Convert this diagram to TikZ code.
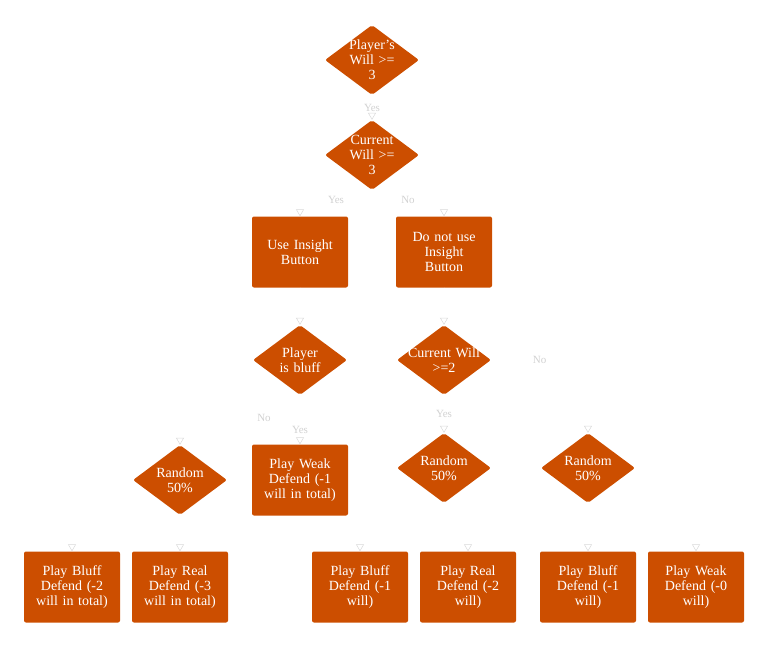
\documentclass[tikz,border=0pt]{standalone}
\usepackage{fontspec}
\setmainfont{Liberation Serif}
\usepackage{tikz}
\usetikzlibrary{positioning, arrows.meta, shapes.geometric}
\definecolor{boxorange}{HTML}{CC4E00}

\begin{document}
\begin{tikzpicture}[x=1pt, y=-1pt,
  font=\fontsize{14}{15}\selectfont,
  box/.style={fill=boxorange, rounded corners=2pt, minimum width=96pt, minimum height=71pt,
    text=white, align=center, text width=90pt, inner sep=0pt},
  dia/.style={diamond, fill=boxorange, rounded corners=2pt, minimum width=94pt,
    minimum height=70pt, inner sep=0pt},
  dtxt/.style={text=white, align=center, text width=80pt},
  link/.style={draw=gray!30, double=white, double distance=1.2pt, line width=0.5pt,
    -{Triangle[open, length=7pt, width=8pt]}},
  yn/.style={text=gray!35, font=\fontsize{11}{12}\selectfont, fill=white, inner sep=1pt}]
\useasboundingbox (0,0) rectangle (768,648);

% --- top decisions ---
\node[dia, label={[dtxt]center:Player's\\Will >=\\3}] (will) at (372,60) {};
\node[dia, label={[dtxt]center:Current\\Will >=\\3}] (cur) at (372,155) {};
\node[box] (use) at (300,252) {Use Insight\\Button};
\node[box] (nouse) at (444,252) {Do not use\\Insight\\Button};

% --- second level ---
\node[dia, label={[dtxt]center:Player\\is bluff}] (bluff) at (300,360) {};
\node[dia, label={[dtxt]center:Current Will\\>=2}] (cur2) at (444,360) {};
\node[dia, label={[dtxt]center:Random\\50\%}] (rndA) at (180,480) {};
\node[box] (weakA) at (300,480) {Play Weak\\Defend (-1\\will in total)};
\node[dia, label={[dtxt]center:Random\\50\%}] (rndB) at (444,468) {};
\node[dia, label={[dtxt]center:Random\\50\%}] (rndC) at (588,468) {};

% --- leaves ---
\node[box] (bluffA) at (72,587) {Play Bluff\\Defend (-2\\will in total)};
\node[box] (realA) at (180,587) {Play Real\\Defend (-3\\will in total)};
\node[box] (bluffB) at (360,587) {Play Bluff\\Defend (-1\\will)};
\node[box] (realB) at (468,587) {Play Real\\Defend (-2\\will)};
\node[box] (bluffC) at (588,587) {Play Bluff\\Defend (-1\\will)};
\node[box] (weakC) at (696,587) {Play Weak\\Defend (-0\\will)};

% --- connectors ---
\draw[link] (will) -- node[yn] {Yes} (cur);
\coordinate (split) at (372,200);
\draw[link] (cur) -- (split) -- node[yn] {Yes} (300,200) -- (use);
\draw[link] (split) -- node[yn] {No} (444,200) -- (nouse);
\draw[link] (use) -- (bluff);
\draw[link] (nouse) -- (cur2);
\draw[link] (bluff) -- node[yn, pos=0.7] {Yes} (weakA);
\draw[link] (bluff.south) -- (300,418) -- node[yn, pos=0.3] {No} (180,418) -- (rndA);
\draw[link] (cur2) -- node[yn] {Yes} (rndB);
\draw[link] (cur2.east) -- node[yn] {No} (588,360) -- (rndC);
\draw[link] (rndA.west) -- (72,480) -- (bluffA);
\draw[link] (rndA) -- (realA);
\draw[link] (rndB.west) -- (360,468) -- (bluffB);
\draw[link] (rndB.south) -- (444,525) -- (468,525) -- (realB);
\draw[link] (rndC) -- (bluffC);
\draw[link] (rndC.east) -- (696,468) -- (weakC);
\end{tikzpicture}
\end{document}
